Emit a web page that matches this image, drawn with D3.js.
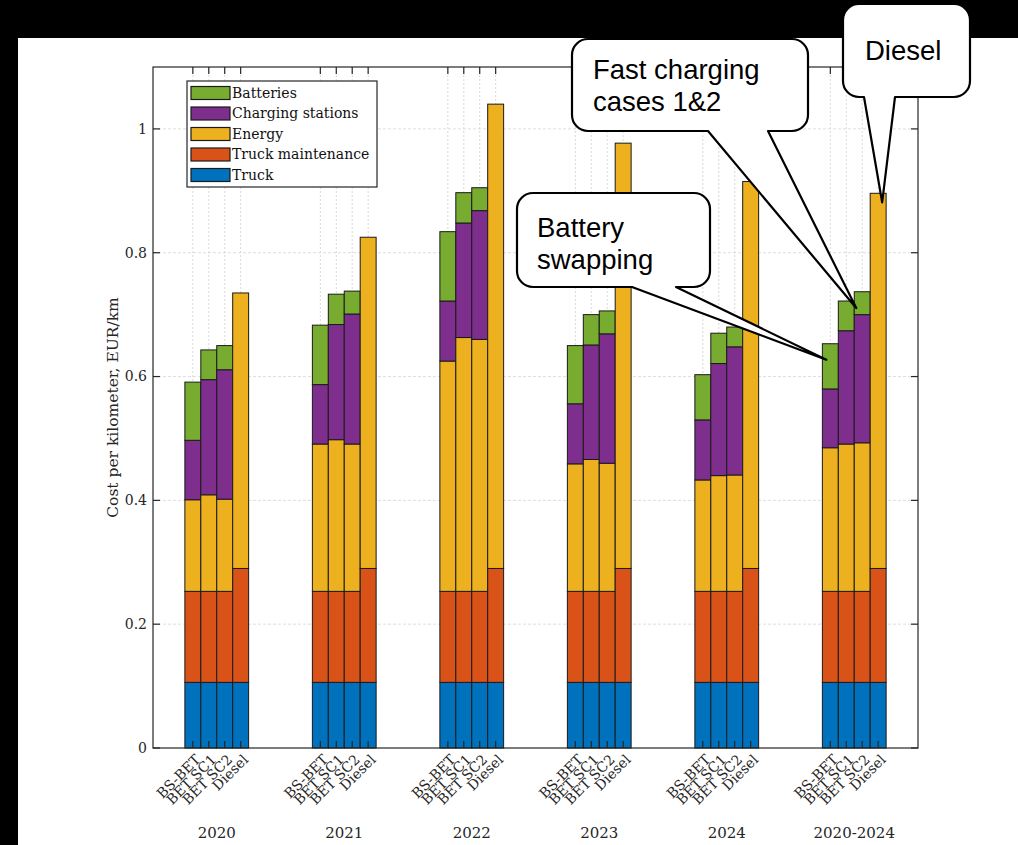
<!DOCTYPE html>
<html><head><meta charset="utf-8">
<script src="https://cdn.jsdelivr.net/npm/d3@7"></script>
<style>
html,body{margin:0;padding:0;background:#000;}
svg{display:block;}
</style></head>
<body>
<script>
// ---------- DATA ----------
const groups = ["2020","2021","2022","2023","2024","2020-2024"];
const vehicles = ["BS-BET","BET SC1","BET SC2","Diesel"];
const seriesNames = ["Truck","Truck maintenance","Energy","Charging stations","Batteries"];
const seriesColors = ["#0072BD","#D95319","#EDB120","#7E2F8E","#77AC30"];
// values per bar, group-major (BS-BET, BET SC1, BET SC2, Diesel for each year)
const truck = [
  0.106,0.106,0.106,0.106, 0.106,0.106,0.106,0.106, 0.106,0.106,0.106,0.106,
  0.106,0.106,0.106,0.106, 0.106,0.106,0.106,0.106, 0.106,0.106,0.106,0.106];
const truckMaintenance = [
  0.147,0.147,0.147,0.184, 0.147,0.147,0.147,0.184, 0.147,0.147,0.147,0.184,
  0.147,0.147,0.147,0.184, 0.147,0.147,0.147,0.184, 0.147,0.147,0.147,0.184];
const energy = [
  0.148,0.156,0.149,0.445, 0.238,0.245,0.238,0.535, 0.372,0.410,0.407,0.750,
  0.206,0.213,0.207,0.687, 0.180,0.187,0.188,0.625, 0.232,0.238,0.240,0.606];
const chargingStations = [
  0.096,0.186,0.209,0, 0.096,0.186,0.210,0, 0.097,0.185,0.208,0,
  0.097,0.185,0.209,0, 0.097,0.181,0.207,0, 0.095,0.183,0.207,0];
const batteries = [
  0.094,0.048,0.039,0, 0.096,0.049,0.037,0, 0.112,0.049,0.037,0,
  0.094,0.049,0.037,0, 0.073,0.049,0.032,0, 0.073,0.048,0.037,0];
const yTicks = [0,0.2,0.4,0.6,0.8,1];
const yTickLabels = ["0","0.2","0.4","0.6","0.8","1"];
const yLabel = "Cost per kilometer, EUR/km";
const callouts = [
  {lines:["Diesel"], target:{group:5, vehicle:3}},
  {lines:["Fast charging","cases 1&2"], target:{group:5, vehicle:1}},
  {lines:["Battery","swapping"], target:{group:5, vehicle:0}}
];

// ---------- LAYOUT ----------
const W = 1018, H = 845;
const M = {left:153, right:918, top:67, bottom:748};
const serif = "'DejaVu Serif', serif";
const sans = "'Liberation Sans', Arial, sans-serif";
const axisColor = "#262626";

const svg = d3.select("body").append("svg").attr("width",W).attr("height",H);
svg.append("rect").attr("width",W).attr("height",H).attr("fill","#000");
svg.append("rect").attr("x",18).attr("y",38).attr("width",W-18).attr("height",H-38).attr("fill","#fff");

// bar positions: 4 bars per group, groups 8 units apart
const bars = [];
groups.forEach((g,gi)=>vehicles.forEach((v,vi)=>{
  const i = gi*vehicles.length+vi;
  bars.push({group:g, gi, vehicle:v, vi, pos: gi*8+vi+1,
    vals:[truck[i],truckMaintenance[i],energy[i],chargingStations[i],batteries[i]]});
}));

const x = d3.scaleLinear().domain([-1.5,46.5]).range([M.left,M.right]);
const y = d3.scaleLinear().domain([0,1.1]).range([M.bottom,M.top]);

// grid
const grid = svg.append("g");
grid.selectAll("line.h").data(yTicks.slice(1)).join("line")
  .attr("x1",M.left).attr("x2",M.right)
  .attr("y1",d=>y(d)).attr("y2",d=>y(d))
  .attr("stroke","#dedede").attr("stroke-width",1).attr("stroke-dasharray","3,2");
grid.selectAll("line.v").data(bars).join("line")
  .attr("x1",d=>x(d.pos)).attr("x2",d=>x(d.pos))
  .attr("y1",M.top).attr("y2",M.bottom)
  .attr("stroke","#d8d8d8").attr("stroke-width",1).attr("stroke-dasharray","2,2");

// stacked bars
const bw = x(1)-x(0);
const stackG = svg.append("g");
bars.forEach(b=>{
  let acc = 0;
  b.vals.forEach((v,si)=>{
    if(v>0){
      stackG.append("rect")
        .attr("x",x(b.pos)-bw/2).attr("width",bw)
        .attr("y",y(acc+v)).attr("height",y(acc)-y(acc+v))
        .attr("fill",seriesColors[si]).attr("stroke","#1a1a1a").attr("stroke-width",1);
    }
    acc += v;
  });
  b.total = acc;
});

// axes box
const ax = svg.append("g").attr("stroke",axisColor).attr("stroke-width",1.2).attr("fill","none");
ax.append("rect").attr("x",M.left).attr("y",M.top).attr("width",M.right-M.left).attr("height",M.bottom-M.top);
yTicks.forEach(t=>{
  ax.append("line").attr("x1",M.left).attr("x2",M.left+7).attr("y1",y(t)).attr("y2",y(t));
  ax.append("line").attr("x1",M.right).attr("x2",M.right-7).attr("y1",y(t)).attr("y2",y(t));
});
bars.forEach(b=>{
  ax.append("line").attr("x1",x(b.pos)).attr("x2",x(b.pos)).attr("y1",M.bottom).attr("y2",M.bottom-7);
  ax.append("line").attr("x1",x(b.pos)).attr("x2",x(b.pos)).attr("y1",M.top).attr("y2",M.top+7);
});

// y tick labels
svg.append("g").selectAll("text").data(yTicks).join("text")
  .attr("x",M.left-6).attr("y",d=>y(d)).attr("dy","0.35em")
  .attr("text-anchor","end").attr("font-family",serif).attr("font-size",14)
  .attr("fill",axisColor).text((d,i)=>yTickLabels[i]);

// y label
svg.append("text").attr("transform",`translate(118,${(M.top+M.bottom)/2}) rotate(-90)`)
  .attr("text-anchor","middle").attr("font-family",serif).attr("font-size",15.5)
  .attr("fill",axisColor).text(yLabel);

// x tick labels rotated
svg.append("g").selectAll("text").data(bars).join("text")
  .attr("transform",d=>`translate(${x(d.pos)+5},${M.bottom+9}) rotate(-45)`)
  .attr("text-anchor","end").attr("dy","0.35em")
  .attr("font-family",serif).attr("font-size",14).attr("fill",axisColor)
  .text(d=>d.vehicle);

// group labels
svg.append("g").selectAll("text").data(groups).join("text")
  .attr("x",(d,i)=>x(i*8+2.5)).attr("y",838)
  .attr("text-anchor","middle").attr("font-family",serif).attr("font-size",15)
  .attr("fill",axisColor).text(d=>d);

// legend
const leg = svg.append("g");
leg.append("rect").attr("x",187).attr("y",81).attr("width",190).attr("height",106)
  .attr("fill","#fff").attr("stroke",axisColor).attr("stroke-width",1.2);
const legOrder = [4,3,2,1,0];
legOrder.forEach((si,r)=>{
  const cy = 93 + r*20.5;
  leg.append("rect").attr("x",191).attr("y",cy-6.5).attr("width",39).attr("height",13)
    .attr("fill",seriesColors[si]).attr("stroke","#1a1a1a").attr("stroke-width",1.2);
  leg.append("text").attr("x",232).attr("y",cy).attr("dy","0.35em")
    .attr("font-family",serif).attr("font-size",14).attr("fill","#111").text(seriesNames[si]);
});

// callouts
function calloutPath(x0,y0,x1,y1,r,bx0,bx1,tx,ty){
  return `M${x0+r},${y0} H${x1-r} A${r},${r} 0 0 1 ${x1},${y0+r} V${y1-r} A${r},${r} 0 0 1 ${x1-r},${y1}`+
    ` H${bx1} L${tx},${ty} L${bx0},${y1} H${x0+r} A${r},${r} 0 0 1 ${x0},${y1-r} V${y0+r} A${r},${r} 0 0 1 ${x0+r},${y0} Z`;
}
const barAt = (gi,vi)=>bars[gi*vehicles.length+vi];
const boxes = [
  {x0:843,y0:4,x1:970,y1:97,bx0:864,bx1:895,tdx:4,tdy:9,tx:865,ty:60},
  {x0:572,y0:39,x1:808,y1:131,bx0:708,bx1:768,tdx:bw/2+2,tdy:7,tx:593,ty:79},
  {x0:517,y0:193,x1:710,y1:287,bx0:632,bx1:676,tdx:-4,tdy:16,tx:537,ty:237}
];
const cg = svg.append("g");
callouts.forEach((c,i)=>{
  const b = boxes[i];
  const t = barAt(c.target.group,c.target.vehicle);
  const tipX = x(t.pos)+b.tdx, tipY = y(t.total)+b.tdy;
  cg.append("path").attr("d",calloutPath(b.x0,b.y0,b.x1,b.y1,16,b.bx0,b.bx1,tipX,tipY))
    .attr("fill","#fff").attr("stroke","#000").attr("stroke-width",2.2).attr("stroke-linejoin","round");
  c.lines.forEach((ln,k)=>{
    cg.append("text").attr("x",b.tx).attr("y",b.ty+k*32)
      .attr("font-family",sans).attr("font-size",27.5).attr("fill","#000").text(ln);
  });
});
</script>
</body></html>
